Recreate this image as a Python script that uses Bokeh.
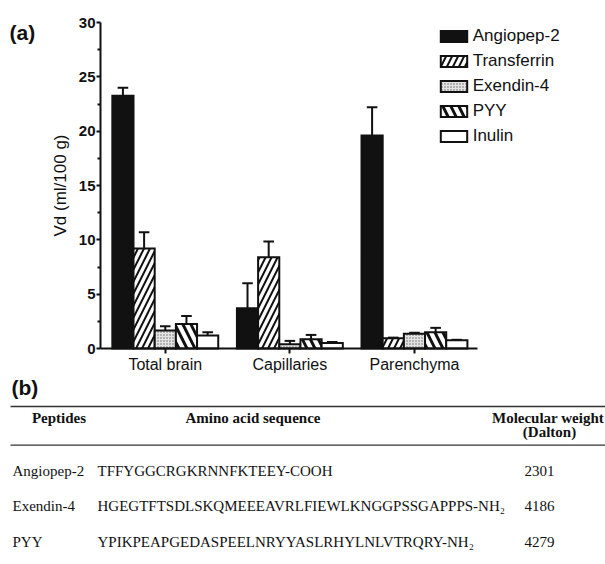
from bokeh.plotting import figure
from bokeh.models import Range1d, FixedTicker, Legend, LegendItem
from bokeh.embed import file_html
from bokeh.resources import INLINE
from bokeh.core.properties import value

# ---------------- data ----------------
regions = ["Total brain", "Capillaries", "Parenchyma"]
series = ["Angiopep-2", "Transferrin", "Exendin-4", "PYY", "Inulin"]

angiopep = [23.25, 3.7, 19.6]
angiopep_err = [0.75, 2.3, 2.6]
transferrin = [9.2, 8.4, 0.95]
transferrin_err = [1.5, 1.45, 0.05]
exendin = [1.65, 0.4, 1.35]
exendin_err = [0.4, 0.3, 0.1]
pyy = [2.25, 0.85, 1.5]
pyy_err = [0.75, 0.4, 0.4]
inulin = [1.2, 0.5, 0.75]
inulin_err = [0.3, 0.1, 0.05]

values = [angiopep, transferrin, exendin, pyy, inulin]
errors = [angiopep_err, transferrin_err, exendin_err, pyy_err, inulin_err]

y_ticks = [0, 5, 10, 15, 20, 25, 30]

tbl_headers = ["Peptides", "Amino acid sequence", "Molecular weight", "(Dalton)"]
tbl_peptides = ["Angiopep-2", "Exendin-4", "PYY"]
tbl_sequences = ["TFFYGGCRGKRNNFKTEEY-COOH",
                 "HGEGTFTSDLSKQMEEEAVRLFIEWLKNGGPSSGAPPPS-NH\u2082",
                 "YPIKPEAPGEDASPEELNRYYASLRHYLNLVTRQRY-NH\u2082"]
tbl_weights = ["2301", "4186", "4279"]

# ---------------- styles / layout ----------------
styles = [
    dict(fill_color="#111111"),
    dict(fill_color="white", hatch_pattern="right_diagonal_line", hatch_scale=12, hatch_weight=2, hatch_color="#111111"),
    dict(fill_color="#e4e4e4", hatch_pattern="dot", hatch_scale=3, hatch_weight=1, hatch_color="#666666"),
    dict(fill_color="white", hatch_pattern="left_diagonal_line", hatch_scale=16, hatch_weight=3, hatch_color="#111111"),
    dict(fill_color="white"),
]

FONT = "Liberation Sans"
SERIF = "Liberation Serif"
INK = "#111111"

W, H = 605, 564
X_LO, X_HI = -0.52, 2.506          # x-axis extent in data units
AX_L_PX, AX_R_PX = 100, 477        # where the x-axis starts / ends on the canvas
Y_LO, Y_HI = 0, 30
AX_T_PX, AX_B_PX = 22, 348         # where y=30 / y=0 sit on the canvas

xs_scale = (AX_R_PX - AX_L_PX) / (X_HI - X_LO)
ys_scale = (AX_B_PX - AX_T_PX) / (Y_HI - Y_LO)
x_range = Range1d(X_LO - AX_L_PX / xs_scale, X_HI + (W - AX_R_PX) / xs_scale)
y_range = Range1d(Y_LO - (H - AX_B_PX) / ys_scale, Y_HI + AX_T_PX / ys_scale)

p = figure(width=W, height=H, x_range=x_range, y_range=y_range,
           output_backend="svg", toolbar_location=None, min_border=0)
p.extra_x_ranges = {"px": Range1d(0, W)}
p.extra_y_ranges = {"py": Range1d(H, 0)}
p.outline_line_color = None
p.xgrid.visible = False
p.ygrid.visible = False
p.background_fill_color = "white"
p.border_fill_color = "white"

# ---------------- chart (a) ----------------
bar_w = 0.17
cap_w = 0.085
items = []
for si, (name, vals, errs, st) in enumerate(zip(series, values, errors, styles)):
    xs = [ri + (si - 2) * bar_w for ri in range(len(regions))]
    tops = [v + e for v, e in zip(vals, errs)]
    p.segment(x0=xs, y0=vals, x1=xs, y1=tops, line_color=INK, line_width=2)
    p.segment(x0=[x - cap_w / 2 for x in xs], y0=tops, x1=[x + cap_w / 2 for x in xs], y1=tops,
              line_color=INK, line_width=2)
    kw = dict(fill_color=st["fill_color"])
    if "hatch_pattern" in st:
        kw.update(hatch_pattern=st["hatch_pattern"], hatch_scale=st["hatch_scale"],
                  hatch_weight=st["hatch_weight"], hatch_color=st["hatch_color"])
    r = p.vbar(x=xs, top=vals, bottom=0, width=bar_w, line_color=INK, line_width=2,
               line_join="miter", **kw)
    items.append(LegendItem(label=name, renderers=[r]))

legend = Legend(items=items, location=(436.7, H - 146.3), glyph_width=33, glyph_height=14,
                label_text_font=FONT, label_text_font_size="17px", label_standoff=3,
                label_height=20, spacing=5, padding=0, margin=0, label_text_color=INK,
                border_line_color=None, background_fill_alpha=0)
p.add_layout(legend)

xa = p.xaxis[0]
xa.fixed_location = 0
xa.bounds = (X_LO, X_HI)
xa.ticker = FixedTicker(ticks=list(range(len(regions))), minor_ticks=[])
xa.major_label_overrides = {i: r for i, r in enumerate(regions)}
xa.major_label_text_font = FONT
xa.major_label_text_font_size = "16px"
xa.major_label_text_color = INK
xa.major_label_standoff = 2
xa.major_tick_out = 5
xa.major_tick_in = 0
xa.axis_line_width = 2
xa.major_tick_line_width = 2
xa.axis_line_color = INK
xa.major_tick_line_color = INK

ya = p.yaxis[0]
ya.fixed_location = X_LO
ya.bounds = (Y_LO, Y_HI)
ya.ticker = FixedTicker(ticks=y_ticks, minor_ticks=[t + 2.5 for t in y_ticks[:-1]])
ya.major_label_text_font = FONT
ya.major_label_text_font_size = "15px"
ya.major_label_text_font_style = "bold"
ya.major_label_text_color = INK
ya.major_label_standoff = 1
ya.major_tick_out = 4
ya.major_tick_in = 0
ya.minor_tick_out = 3
ya.minor_tick_in = 0
ya.axis_line_width = 2
ya.major_tick_line_width = 2
ya.minor_tick_line_width = 2
ya.axis_line_color = INK
ya.major_tick_line_color = INK
ya.minor_tick_line_color = INK
ya.axis_label = "Vd (ml/100 g)"
ya.axis_label_text_font = FONT
ya.axis_label_text_font_size = "17px"
ya.axis_label_text_font_style = "normal"
ya.axis_label_text_color = INK
ya.axis_label_standoff = 6

# panel letters
p.text(x=[9, 11], y=[20, 375], text=["(a)", "(b)"], x_range_name="px", y_range_name="py",
       text_font=value(FONT), text_font_size=value("21px"), text_font_style="bold",
       text_baseline="top", text_color=INK)

# ---------------- table (b) ----------------
rule_y = [406, 444.7]
p.segment(x0=[10, 10], y0=rule_y, x1=[W, W], y1=rule_y, x_range_name="px", y_range_name="py",
          line_color="#333333", line_width=1.3)

hdr_x = [58.5, 252.5, 547.5, 549]
hdr_y = [417, 417, 417, 431.5]
p.text(x=hdr_x, y=hdr_y, text=tbl_headers, x_range_name="px", y_range_name="py",
       text_font=value(SERIF), text_font_size=value("15px"), text_font_style="bold",
       text_align="center", text_baseline="alphabetic", text_color=INK)

row_y = [470 + i * 35.5 for i in range(len(tbl_peptides))]
common = dict(x_range_name="px", y_range_name="py", text_font=value(SERIF),
              text_font_size=value("15px"), text_align="left",
              text_baseline="alphabetic", text_color=INK)
p.text(x=[12] * len(row_y), y=row_y, text=tbl_peptides, **common)
p.text(x=[97] * len(row_y), y=row_y, text=tbl_sequences, **common)
p.text(x=[524] * len(row_y), y=row_y, text=tbl_weights, **common)

open("out.html", "w").write(file_html(p, INLINE))
